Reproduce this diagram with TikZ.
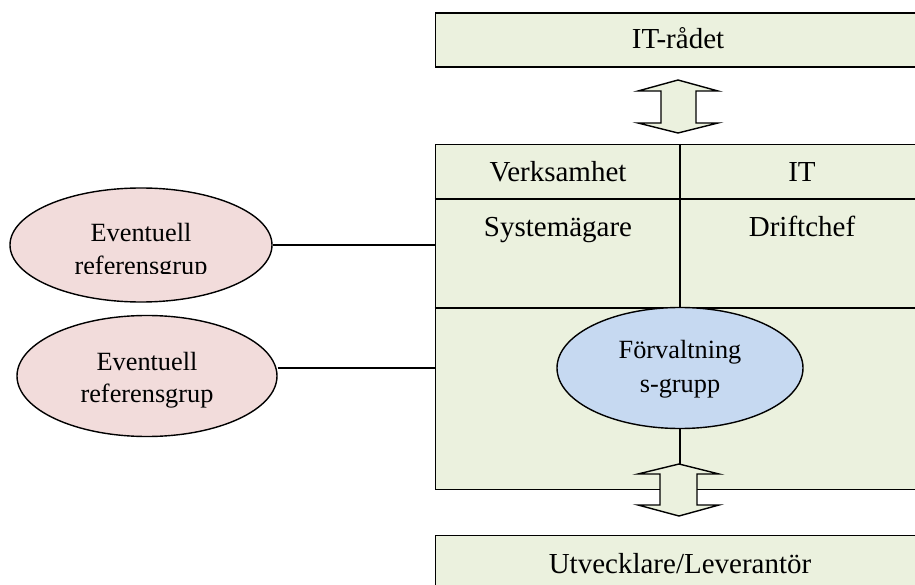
\documentclass[tikz,border=0pt]{standalone}
\usepackage{fontspec}
\setmainfont{Liberation Serif}
\usetikzlibrary{shapes.geometric}
\definecolor{boxgreen}{HTML}{EBF1DE}
\definecolor{refpink}{HTML}{F2DCDB}
\definecolor{grpblue}{HTML}{C6D9F1}
\begin{document}
\begin{tikzpicture}[x=1pt,y=-1pt,line width=1.4pt,
  greenbox/.style={draw,fill=boxgreen,inner sep=0pt,anchor=north west},
  bigtext/.style={font=\fontsize{29}{34}\selectfont,inner sep=0pt,anchor=base},
  smalltext/.style={font=\fontsize{26.3}{32}\selectfont,inner sep=0pt,anchor=base},
  refell/.style={draw,ellipse,fill=refpink,inner sep=0pt},
  grpell/.style={draw,ellipse,fill=grpblue,inner sep=0pt},
  dblarrow/.style={draw,fill=boxgreen,line join=miter}]
\useasboundingbox (0,0) rectangle (915,585);
\clip (0,0) rectangle (915,585);
% top box
\node[greenbox,minimum width=560pt,minimum height=54pt] (itr) at (434.5,12.5) {};
\node[bigtext] (itrt) at (678,49) {IT-rådet};
% big box
\node[greenbox,minimum width=560pt,minimum height=345pt] (fb) at (434.5,144) {};
\coordinate (h1l) at (434.5,199);
\coordinate (h1r) at (1000,199);
\coordinate (h2l) at (434.5,308);
\coordinate (h2r) at (1000,308);
\coordinate (vt) at (680,144);
\coordinate (vb) at (680,308);
\draw (h1l) -- (h1r);
\draw (h2l) -- (h2r);
\draw (vt) -- (vb);
\node[bigtext] (verk) at (558,182) {Verksamhet};
\node[bigtext] (it) at (802,182) {IT};
\node[bigtext] (sys) at (558,237) {Systemägare};
\node[bigtext] (drift) at (802,237) {Driftchef};
% forvaltningsgrupp
\node[grpell,minimum width=246pt,minimum height=121pt] (grp) at (680,368) {};
\node[smalltext] (grp1) at (680,358) {Förvaltning};
\node[smalltext] (grp2) at (680,392) {s-grupp};
% bottom box
\node[greenbox,minimum width=560pt,minimum height=70pt] (utv) at (434.5,535) {};
\node[bigtext] (utvt) at (680,573) {Utvecklare/Leverantör};
% arrow top
\coordinate (a1) at (678,80);
\draw[dblarrow] (a1) -- (718,91) -- (696,91) -- (696,123) -- (718,123) -- (678,133)
  -- (638,123) -- (661,123) -- (661,91) -- (638,91) -- cycle;
% connector grp to lower arrow
\coordinate (a2) at (679,464);
\draw (grp.south) -- (grp.south |- a2);
\draw[dblarrow] (a2) -- (719,474) -- (697,474) -- (697,505) -- (719,505) -- (679,516)
  -- (638,505) -- (660,505) -- (660,474) -- (638,474) -- cycle;
% reference groups
\node[refell,minimum width=262pt,minimum height=114pt] (ref1) at (141,245) {};
\begin{scope}
\clip (0,0) rectangle (300,273.5);
\node[smalltext] (ref1a) at (141,242) {Eventuell};
\node[smalltext] (ref1b) at (141,275) {referensgrup};
\end{scope}
\node[refell,minimum width=260pt,minimum height=121pt] (ref2) at (147,376) {};
\node[smalltext] (ref2a) at (147,370) {Eventuell};
\node[smalltext] (ref2b) at (147,402) {referensgrup};
\coordinate (j1) at (fb.west |- ref1.east);
\coordinate (j2) at (434.5,368);
\draw (ref1.east) -- (j1);
\draw (j2 -| ref2.east) -- (j2);
\end{tikzpicture}
\end{document}
